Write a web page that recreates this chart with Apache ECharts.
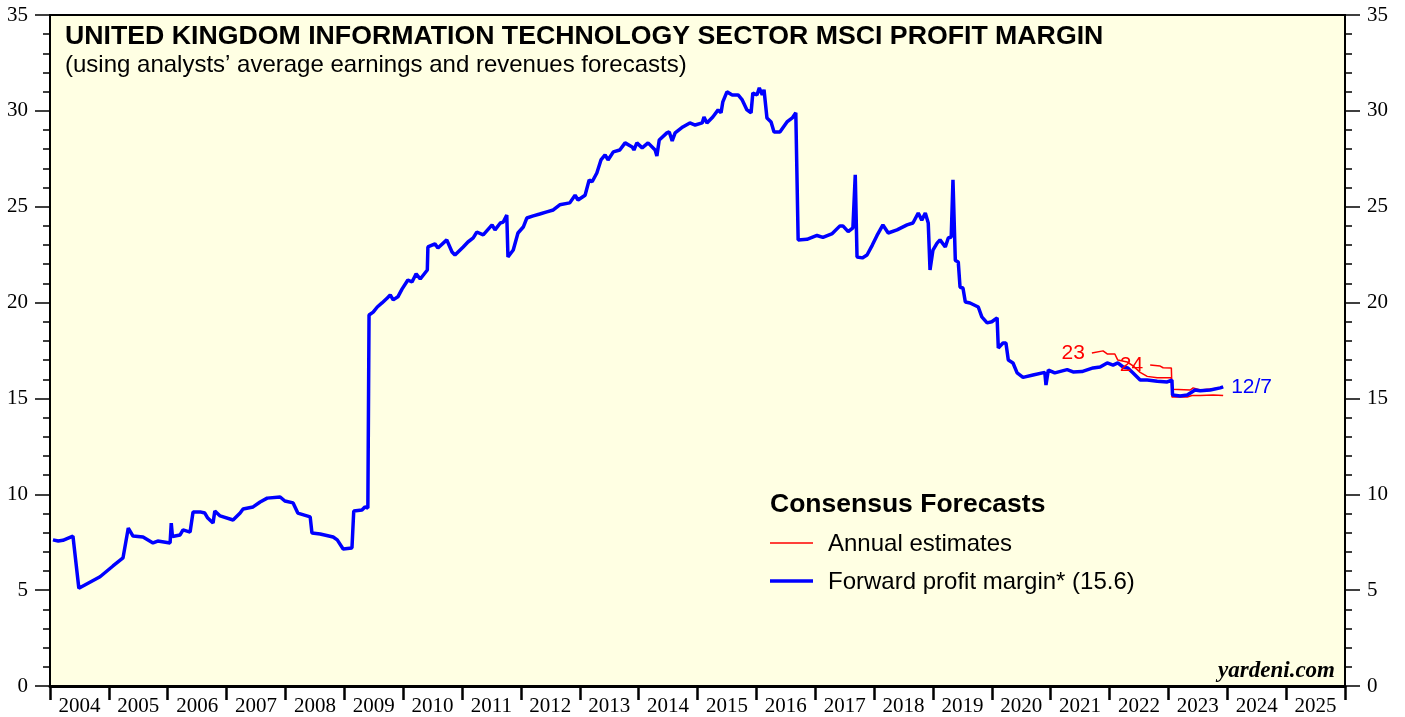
<!DOCTYPE html>
<html>
<head>
<meta charset="utf-8">
<title>UK IT Sector MSCI Profit Margin</title>
<script src="https://cdn.jsdelivr.net/npm/echarts@6/dist/echarts.min.js"></script>
<style>
  html, body { margin: 0; padding: 0; background: #fff; }
  #chart { width: 1405px; height: 717px; }
</style>
</head>
<body>
<div id="chart"></div>
<script>
  // year labels shown between the ticks
  const years = ['2004', '2005', '2006', '2007', '2008', '2009', '2010', '2011', '2012', '2013', '2014',
    '2015', '2016', '2017', '2018', '2019', '2020', '2021', '2022', '2023', '2024', '2025'];

  // forward profit margin, [decimal year, percent]
  const forwardMargin = [
    [2004.05, 7.62], [2004.14, 7.56], [2004.22, 7.6], [2004.39, 7.82], [2004.49, 5.1], [2004.85, 5.7],
    [2005.07, 6.26], [2005.24, 6.68], [2005.33, 8.24], [2005.41, 7.82], [2005.58, 7.77], [2005.75, 7.46],
    [2005.83, 7.56], [2006.04, 7.46], [2006.06, 8.5], [2006.08, 7.8], [2006.21, 7.88], [2006.26, 8.14],
    [2006.38, 8.03], [2006.43, 9.08], [2006.55, 9.08], [2006.63, 9.02], [2006.68, 8.76], [2006.77, 8.5],
    [2006.80, 9.13], [2006.89, 8.87], [2007.11, 8.66], [2007.23, 9.02], [2007.28, 9.23], [2007.45, 9.34],
    [2007.57, 9.6], [2007.69, 9.8], [2007.91, 9.86], [2007.99, 9.65], [2008.13, 9.55], [2008.21, 9.02],
    [2008.42, 8.82], [2008.45, 7.98], [2008.59, 7.93], [2008.81, 7.77], [2008.88, 7.62], [2008.98, 7.15],
    [2009.13, 7.2], [2009.16, 9.13], [2009.30, 9.18], [2009.35, 9.34], [2009.40, 9.28], [2009.42, 19.35],
    [2009.49, 19.5], [2009.56, 19.77], [2009.64, 19.98], [2009.73, 20.24], [2009.78, 20.4], [2009.83, 20.14],
    [2009.91, 20.3], [2009.98, 20.7], [2010.08, 21.18], [2010.15, 21.07], [2010.22, 21.5], [2010.29, 21.23],
    [2010.41, 21.7], [2010.42, 22.9], [2010.54, 23.06], [2010.59, 22.85], [2010.74, 23.27], [2010.83, 22.64],
    [2010.88, 22.48], [2011.02, 22.9], [2011.10, 23.16], [2011.19, 23.37], [2011.25, 23.68], [2011.36, 23.53],
    [2011.51, 24.05], [2011.56, 23.79], [2011.65, 24.15], [2011.70, 24.2], [2011.76, 24.57], [2011.78, 22.38],
    [2011.87, 22.74], [2011.95, 23.63], [2012.04, 23.94], [2012.10, 24.41], [2012.21, 24.52], [2012.32, 24.62],
    [2012.44, 24.73], [2012.55, 24.83], [2012.66, 25.1], [2012.83, 25.2], [2012.92, 25.6], [2012.97, 25.35],
    [2013.09, 25.6], [2013.16, 26.4], [2013.21, 26.3], [2013.29, 26.76], [2013.36, 27.44], [2013.43, 27.7],
    [2013.48, 27.44], [2013.57, 27.86], [2013.68, 27.96], [2013.77, 28.33], [2013.89, 28.12], [2013.92, 27.96],
    [2013.97, 28.33], [2014.06, 28.07], [2014.16, 28.33], [2014.28, 27.96], [2014.31, 27.65], [2014.35, 28.48],
    [2014.48, 28.85], [2014.52, 28.9], [2014.57, 28.43], [2014.62, 28.85], [2014.75, 29.16], [2014.87, 29.37],
    [2014.96, 29.26], [2015.08, 29.37], [2015.11, 29.68], [2015.16, 29.37], [2015.26, 29.68], [2015.35, 30.05],
    [2015.40, 29.9], [2015.43, 30.47], [2015.50, 30.99], [2015.59, 30.83], [2015.69, 30.83], [2015.76, 30.57],
    [2015.84, 30.05], [2015.91, 29.9], [2015.94, 30.93], [2016.01, 30.83], [2016.05, 31.2], [2016.10, 30.83],
    [2016.13, 31.1], [2016.18, 29.63], [2016.25, 29.42], [2016.30, 28.9], [2016.40, 28.9], [2016.52, 29.42],
    [2016.61, 29.63], [2016.67, 29.9], [2016.71, 23.27], [2016.86, 23.3], [2017.03, 23.5], [2017.13, 23.4],
    [2017.29, 23.6], [2017.42, 24.0], [2017.47, 24.0], [2017.56, 23.7], [2017.64, 23.9], [2017.68, 26.66],
    [2017.71, 22.38], [2017.80, 22.33], [2017.88, 22.48], [2017.97, 23.0], [2018.05, 23.5], [2018.15, 24.05],
    [2018.24, 23.63], [2018.39, 23.79], [2018.56, 24.05], [2018.66, 24.15], [2018.75, 24.67], [2018.81, 24.3],
    [2018.87, 24.67], [2018.92, 24.15], [2018.95, 21.7], [2019.00, 22.74], [2019.07, 23.1], [2019.12, 23.27],
    [2019.21, 22.9], [2019.26, 23.37], [2019.31, 23.42], [2019.34, 26.4], [2019.38, 22.2], [2019.43, 22.12],
    [2019.46, 20.8], [2019.51, 20.76], [2019.55, 20.03], [2019.63, 19.98], [2019.77, 19.77], [2019.83, 19.25],
    [2019.92, 18.94], [2020.00, 19.0], [2020.09, 19.2], [2020.11, 17.63], [2020.19, 17.89], [2020.24, 17.89],
    [2020.28, 17.0], [2020.36, 16.85], [2020.43, 16.33], [2020.53, 16.1], [2020.70, 16.22], [2020.90, 16.36],
    [2020.92, 15.7], [2020.96, 16.48], [2021.07, 16.33], [2021.28, 16.5], [2021.38, 16.38], [2021.53, 16.4],
    [2021.72, 16.59], [2021.84, 16.64], [2021.96, 16.85], [2022.06, 16.74], [2022.14, 16.85], [2022.23, 16.64],
    [2022.31, 16.59], [2022.40, 16.33], [2022.52, 15.96], [2022.64, 15.96], [2022.81, 15.9], [2022.98, 15.86],
    [2023.06, 15.96], [2023.07, 15.18], [2023.20, 15.13], [2023.32, 15.18], [2023.40, 15.34], [2023.45, 15.44],
    [2023.54, 15.4], [2023.71, 15.44], [2023.88, 15.55], [2023.93, 15.6]
  ];

  // annual consensus estimates for 2023 and 2024
  const est2023 = [
    [2021.70, 17.37], [2021.89, 17.48], [2021.96, 17.32], [2022.09, 17.32], [2022.14, 17.0], [2022.30, 16.9],
    [2022.40, 16.7], [2022.52, 16.36], [2022.64, 16.15], [2022.81, 16.08], [2023.05, 16.08], [2023.06, 15.07],
    [2023.20, 15.07], [2023.32, 15.07], [2023.40, 15.15], [2023.54, 15.15], [2023.76, 15.18], [2023.93, 15.15]
  ];
  const est2024 = [
    [2022.69, 16.74], [2022.86, 16.69], [2022.91, 16.6], [2023.05, 16.59], [2023.06, 15.48], [2023.37, 15.44],
    [2023.42, 15.55], [2023.54, 15.44], [2023.76, 15.5], [2023.93, 15.58]
  ];

  const lastDate = '12/7';
  const lastValue = 15.6;

  const serif = 'Liberation Serif';
  const sans = 'Liberation Sans';

  // small text tag at the start of an estimate line
  const startTag = (arr, text) => ({
    symbol: 'circle',
    symbolSize: 0,
    silent: true,
    label: { show: true, position: 'left', distance: 7, formatter: text, color: '#ff0000', fontSize: 21, fontFamily: sans },
    data: [{ coord: arr[0] }],
  });

  const chart = echarts.init(document.getElementById('chart'));

  const option = {
    animation: false,
    backgroundColor: '#ffffff',
    grid: {
      left: 50,
      right: 60,
      top: 15,
      bottom: 31,
      show: true,
      backgroundColor: '#FFFFE3',
      borderColor: '#000',
      borderWidth: 2,
    },
    xAxis: [
      {
        type: 'value',
        min: 2004,
        max: 2026,
        show: false,
      },
      {
        type: 'category',
        position: 'bottom',
        data: years,
        boundaryGap: true,
        axisLine: { show: true, lineStyle: { color: '#000', width: 3 } },
        axisTick: { show: true, interval: 0, length: 14, lineStyle: { color: '#000', width: 2.5 } },
        axisLabel: { interval: 0, color: '#000', fontFamily: serif, fontSize: 21, margin: 10 },
        splitLine: { show: false },
      },
    ],
    yAxis: [
      {
        type: 'value',
        position: 'left',
        min: 0,
        max: 35,
        interval: 5,
        axisLine: { show: true, lineStyle: { color: '#000', width: 2 } },
        axisTick: { show: true, length: 15, lineStyle: { color: '#000', width: 1.5 } },
        minorTick: { show: true, splitNumber: 5, length: 7, lineStyle: { color: '#000', width: 1.5 } },
        axisLabel: { color: '#000', fontFamily: serif, fontSize: 21, margin: 22 },
        splitLine: { show: false },
      },
      {
        type: 'value',
        position: 'right',
        min: 0,
        max: 35,
        interval: 5,
        axisLine: { show: true, lineStyle: { color: '#000', width: 2 } },
        axisTick: { show: true, length: 15, lineStyle: { color: '#000', width: 1.5 } },
        minorTick: { show: true, splitNumber: 5, length: 7, lineStyle: { color: '#000', width: 1.5 } },
        axisLabel: { color: '#000', fontFamily: serif, fontSize: 21, margin: 22 },
        splitLine: { show: false },
      },
    ],
    title: [
      {
        text: 'UNITED KINGDOM INFORMATION TECHNOLOGY SECTOR MSCI PROFIT MARGIN',
        left: 60,
        top: 18,
        textStyle: { color: '#000', fontFamily: sans, fontWeight: 'bold', fontSize: 26.7 },
      },
      {
        text: '(using analysts\u2019 average earnings and revenues forecasts)',
        left: 60,
        top: 48,
        textStyle: { color: '#000', fontFamily: sans, fontWeight: 'normal', fontSize: 24 },
      },
    ],
    graphic: [
      { type: 'text', left: 770, top: 491, style: { text: 'Consensus Forecasts', fill: '#000', font: 'bold 26.5px "Liberation Sans"' } },
      { type: 'line', shape: { x1: 770, y1: 543, x2: 813, y2: 543 }, style: { stroke: '#ff0000', lineWidth: 1.5 } },
      { type: 'text', left: 828, top: 532, style: { text: 'Annual estimates', fill: '#000', font: '24px "Liberation Sans"' } },
      { type: 'line', shape: { x1: 770, y1: 581, x2: 813, y2: 581 }, style: { stroke: '#0000ff', lineWidth: 3.5 } },
      { type: 'text', left: 828, top: 570, style: { text: 'Forward profit margin* (' + lastValue + ')', fill: '#000', font: '24px "Liberation Sans"' } },
      { type: 'text', right: 70, top: 660, style: { text: 'yardeni.com', fill: '#000', font: 'italic bold 23px "Liberation Serif"' } },
    ],
    series: [
      {
        name: 'Annual estimates 2023',
        type: 'line',
        xAxisIndex: 0,
        yAxisIndex: 0,
        data: est2023,
        showSymbol: false,
        symbol: 'none',
        lineStyle: { color: '#ff0000', width: 1.5 },
        markPoint: startTag(est2023, '23'),
        z: 2,
      },
      {
        name: 'Annual estimates 2024',
        type: 'line',
        xAxisIndex: 0,
        yAxisIndex: 0,
        data: est2024,
        showSymbol: false,
        symbol: 'none',
        lineStyle: { color: '#ff0000', width: 1.5 },
        markPoint: startTag(est2024, '24'),
        z: 2,
      },
      {
        name: 'Forward profit margin',
        type: 'line',
        xAxisIndex: 0,
        yAxisIndex: 0,
        data: forwardMargin,
        showSymbol: false,
        symbol: 'none',
        lineStyle: { color: '#0000ff', width: 3.5 },
        endLabel: { show: true, formatter: lastDate, color: '#0000ff', fontSize: 21, fontFamily: sans, distance: 8 },
        z: 3,
      },
    ],
  };

  chart.setOption(option);
</script>
</body>
</html>
